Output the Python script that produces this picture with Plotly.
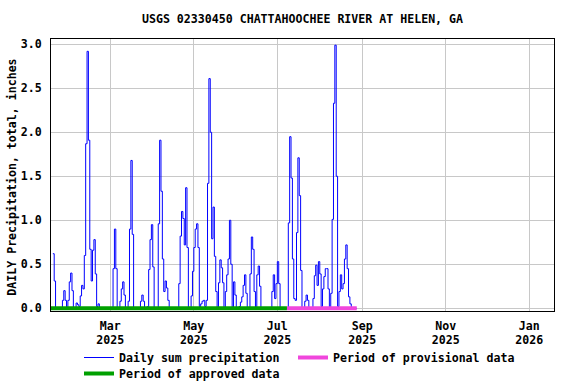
import pandas as pd
import plotly.graph_objects as go

# Daily sum precipitation, inches
jan_2025 = [0.62, 0.31, 0, 0, 0, 0, 0, 0.09, 0.20, 0.09, 0, 0.09, 0.30, 0.40]  # Jan 18-31
feb_2025 = [0.20, 0, 0, 0.06, 0.04, 0.02, 0.14, 0.26, 0.22, 0.60, 1.87, 2.92, 1.91, 0.67,
            0.31, 0.66, 0.78, 0.39, 0.02, 0.05, 0, 0, 0, 0, 0, 0, 0, 0]
mar_2025 = [0, 0, 0.45, 0.90, 0.45, 0, 0, 0.08, 0.22, 0.30, 0.15, 0, 0, 0.08, 0.90, 1.68,
            0.84, 0, 0, 0, 0, 0, 0.08, 0.15, 0.08, 0, 0, 0.02, 0.44, 0.78, 0.95]
apr_2025 = [0.47, 0, 0, 0, 0.96, 1.91, 1.33, 0.56, 0.19, 0.31, 0.23, 0.09, 0, 0, 0, 0, 0,
            0, 0, 0.28, 0.82, 1.10, 1.02, 0.72, 1.37, 0.69, 0, 0, 0.14, 0.42]
may_2025 = [0.69, 0.90, 0.96, 0.69, 0.02, 0.05, 0.08, 0.09, 0.02, 0.09, 1.42, 2.61, 2.00,
            0.79, 1.15, 0.59, 0.19, 0, 0.29, 0.55, 0.46, 0.29, 0, 0.19, 0.38, 0.56, 1.00,
            0.50, 0, 0.30, 0.15]
jun_2025 = [0, 0, 0.02, 0.07, 0.13, 0.26, 0.38, 0.17, 0, 0, 0.39, 0.81, 0.67, 0.19, 0,
            0.38, 0.48, 0.25, 0, 0, 0, 0, 0, 0, 0, 0, 0.19, 0.38, 0.11, 0.28]
jul_2025 = [0.53, 0.28, 0, 0, 0, 0, 0, 0, 0.97, 1.95, 1.48, 0.56, 0.11, 0.09, 0.86, 1.71,
            1.28, 0.43, 0, 0, 0.08, 0.15, 0.09, 0, 0, 0, 0.11, 0.37, 0.49, 0.26, 0.53]
aug_2025 = [0.39, 0.02, 0.22, 0.36, 0.45, 0.45, 0.22, 0, 0.17, 1.01, 2.33, 2.99, 1.50, 0.02,
            0.19, 0.38, 0.22, 0.28, 0.56, 0.72, 0.45, 0.13, 0.05, 0, 0, 0, 0, 0]  # Aug 1-28

month_segments = [
    ("2025-01-18", jan_2025), ("2025-02-01", feb_2025), ("2025-03-01", mar_2025),
    ("2025-04-01", apr_2025), ("2025-05-01", may_2025), ("2025-06-01", jun_2025),
    ("2025-07-01", jul_2025), ("2025-08-01", aug_2025),
]

approved_period = ["2025-01-16", "2025-07-08"]
provisional_period = ["2025-07-08", "2025-08-28"]

tick_dates = ["2025-03-01", "2025-05-01", "2025-07-01", "2025-09-01", "2025-11-01", "2026-01-01"]
tick_months = ["Mar", "May", "Jul", "Sep", "Nov", "Jan"]
tick_years = ["2025", "2025", "2025", "2025", "2025", "2026"]
y_ticks = [0.0, 0.5, 1.0, 1.5, 2.0, 2.5, 3.0]

dates, values = [], []
for start, vals in month_segments:
    dates += list(pd.date_range(start, periods=len(vals), freq="D"))
    values += vals

FONT = "DejaVu Sans Mono"
FS = 11.6
TXT = dict(family=FONT, size=FS, color="black")

W, H = 576, 384
L, R, T, B = 51, 22, 39, 73
ph = H - T - B
pw = W - L - R

fig = go.Figure()
fig.add_trace(go.Scatter(
    x=dates, y=values, mode="lines", line=dict(color="#0000ff", width=1, shape="hv"),
    name="<b>Daily sum precipitation</b>", legend="legend"))
fig.add_trace(go.Scatter(
    x=provisional_period, y=[0, 0], mode="lines", line=dict(color="#f046dc", width=4),
    name="<b>Period of provisional data</b>", legend="legend2"))
fig.add_trace(go.Scatter(
    x=approved_period, y=[0, 0], mode="lines", line=dict(color="#00a000", width=4),
    name="<b>Period of approved data</b>", legend="legend3"))
# second x axis only carries the year line of the tick labels
fig.add_trace(go.Scatter(x=[tick_dates[0]], y=[None], xaxis="x2", showlegend=False,
                         hoverinfo="skip"))

leg_common = dict(orientation="v", xanchor="left", yanchor="top", font=TXT,
                  bgcolor="rgba(0,0,0,0)", borderwidth=0)

fig.update_layout(
    width=W, height=H,
    margin=dict(l=L, r=R, t=T, b=B, autoexpand=False),
    paper_bgcolor="white", plot_bgcolor="white",
    font=TXT,
    title=dict(text="<b>USGS 02330450 CHATTAHOOCHEE RIVER AT HELEN, GA</b>",
               x=0.5, xref="paper", xanchor="center",
               y=1 - 19 / H, yref="container", yanchor="middle", font=TXT),
    showlegend=True,
    legend=dict(x=(79 - L) / pw, y=(T + ph - 343) / ph, **leg_common),
    legend2=dict(x=(293 - L) / pw, y=(T + ph - 343) / ph, **leg_common),
    legend3=dict(x=(79 - L) / pw, y=(T + ph - 359) / ph, **leg_common),
)

xr = ["2025-01-16 16:00", "2026-01-19 02:00"]
fig.update_layout(
    xaxis=dict(
        type="date", range=xr,
        tickvals=tick_dates, ticktext=[f"<b>{m}</b>" for m in tick_months],
        showgrid=True, gridcolor="#c8c8c8", gridwidth=1,
        showline=True, linecolor="black", linewidth=1, mirror=True,
        ticks="", zeroline=False, tickfont=TXT, ticklabelstandoff=4,
    ),
    xaxis2=dict(
        type="date", range=xr, overlaying="x", side="bottom", anchor="y",
        tickvals=tick_dates, ticktext=[f"<b>{y}</b>" for y in tick_years],
        showgrid=False, showline=False, ticks="", zeroline=False,
        tickfont=TXT, ticklabelstandoff=20,
    ),
    yaxis=dict(
        range=[-0.031, 3.06], tickvals=y_ticks, ticktext=[f"<b>{v:.1f}</b>" for v in y_ticks],
        showgrid=True, gridcolor="#c8c8c8", gridwidth=1,
        showline=True, linecolor="black", linewidth=1, mirror=True,
        ticks="", zeroline=False, tickfont=TXT, ticklabelstandoff=6,
    ),
)

fig.add_annotation(
    text="<b>DAILY Precipitation, total, inches</b>", textangle=-90,
    xref="paper", x=(12 - L) / pw, xanchor="center",
    yref="paper", y=0.49, yanchor="middle", showarrow=False, font=TXT)

fig.write_html("out.html",
               config={"displayModeBar": False},
               post_script="document.body.style.margin='0';document.body.style.overflow='hidden';")
